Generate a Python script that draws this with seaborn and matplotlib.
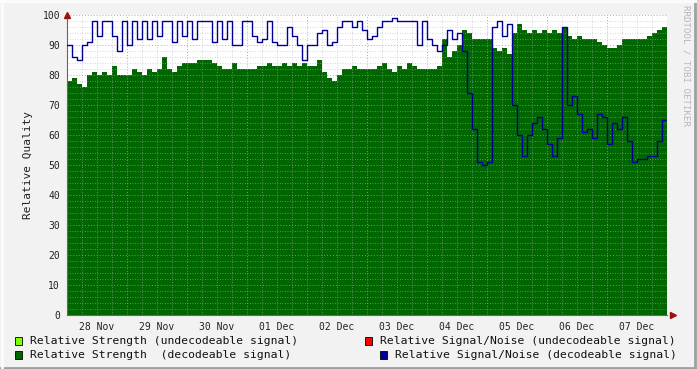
import numpy as np
import pandas as pd
import seaborn as sns
import matplotlib.pyplot as plt
from matplotlib.ticker import MultipleLocator, FuncFormatter, NullFormatter
from matplotlib.patches import Rectangle
from matplotlib.lines import Line2D

# === data: 2-hour samples starting 28 Nov 00:00 ===
day_labels = ["28 Nov", "29 Nov", "30 Nov", "01 Dec", "02 Dec",
              "03 Dec", "04 Dec", "05 Dec", "06 Dec", "07 Dec"]

strength = [
    78, 79, 77, 76, 80, 81, 80, 81, 80, 83, 80, 80,   # 28 Nov
    80, 82, 81, 80, 82, 81, 82, 86, 82, 81, 83, 84,   # 29 Nov
    84, 84, 85, 85, 85, 84, 83, 82, 82, 84, 82, 82,   # 30 Nov
    82, 82, 83, 83, 84, 83, 83, 84, 83, 84, 83, 84,   # 01 Dec
    83, 83, 85, 81, 79, 78, 80, 82, 82, 83, 82, 82,   # 02 Dec
    82, 82, 83, 84, 82, 81, 83, 82, 84, 83, 82, 82,   # 03 Dec
    82, 82, 83, 92, 86, 88, 90, 95, 94, 92, 92, 92,   # 04 Dec
    92, 89, 88, 89, 87, 94, 97, 95, 94, 95, 94, 95,   # 05 Dec
    94, 95, 94, 96, 93, 92, 93, 92, 92, 92, 91, 90,   # 06 Dec
    89, 89, 90, 92, 92, 92, 92, 92, 93, 94, 95, 96,   # 07 Dec
]

snr = [
    90, 86, 85, 90, 91, 98, 93, 98, 98, 93, 88, 98,
    90, 98, 92, 98, 92, 98, 93, 98, 98, 91, 98, 93,
    98, 92, 98, 98, 98, 91, 98, 92, 98, 90, 90, 98,
    98, 93, 91, 92, 98, 91, 90, 90, 96, 93, 90, 85,
    90, 90, 94, 95, 90, 91, 96, 98, 98, 96, 98, 95,
    92, 93, 96, 98, 98, 99, 98, 98, 98, 98, 90, 98,
    92, 90, 88, 90, 95, 92, 94, 88, 74, 62, 51, 50,
    51, 96, 98, 93, 97, 70, 60, 53, 60, 64, 66, 62,
    57, 53, 59, 96, 70, 73, 67, 61, 62, 59, 67, 66,
    57, 64, 62, 66, 58, 51, 52, 52, 53, 53, 58, 65,
]

step_hours = 2
hours = np.arange(len(strength) + 1) * step_hours
df = pd.DataFrame({
    "hour": hours,
    "strength": strength + strength[-1:],
    "snr": snr + snr[-1:],
})

# === style ===
sns.set_style("white")
plt.rcParams["font.family"] = ["DejaVu Sans Mono", "DejaVu Sans"]

bg = "#f2f2f2"
fig = plt.figure(figsize=(6.97, 3.69), dpi=100, facecolor=bg)
ax = fig.add_axes([67 / 697, 54 / 369, 600 / 697, 300 / 369])
ax.set_facecolor("white")

ax.fill_between(df["hour"], df["strength"], 0, step="post",
                color="#006600", linewidth=0, zorder=1)
sns.lineplot(data=df, x="hour", y="snr", ax=ax, color="#000099",
             linewidth=1.0, drawstyle="steps-post", zorder=3)

ax.set_xlim(0, 240)
ax.set_ylim(0, 100)

# grid
ax.xaxis.set_major_locator(MultipleLocator(24))
ax.xaxis.set_minor_locator(MultipleLocator(6))
ax.yaxis.set_major_locator(MultipleLocator(10))
ax.yaxis.set_minor_locator(MultipleLocator(2))
ax.set_axisbelow("line")
ax.grid(which="minor", color="#b0b0b0", linestyle=(0, (1, 2)), linewidth=0.6, alpha=0.7)
ax.grid(which="major", color="#e08080", linestyle=(0, (1, 2)), linewidth=0.7, alpha=0.8)

# day labels at noon
ax.xaxis.set_major_formatter(NullFormatter())
ax.xaxis.set_minor_formatter(FuncFormatter(
    lambda v, p: day_labels[int(v) // 24] if int(v) % 24 == 12 and int(v) // 24 < len(day_labels) else ""))
ax.tick_params(axis="x", which="major", length=3, color="#cc6666", direction="out")
ax.tick_params(axis="x", which="minor", length=0, labelsize=7, pad=5, labelcolor="#222222")
ax.tick_params(axis="y", which="major", length=3, color="#555555", direction="out",
               labelsize=7, labelcolor="#222222", pad=2)
ax.tick_params(axis="y", which="minor", length=0)

for s in ["top", "right"]:
    ax.spines[s].set_visible(False)
for s in ["left", "bottom"]:
    ax.spines[s].set_color("#666666")
    ax.spines[s].set_linewidth(0.8)

ax.set_xlabel("")
ax.set_ylabel("Relative Quality", fontsize=8, color="#222222", labelpad=7)

# axis arrows
ax.plot([0], [1.0], marker="^", markersize=4, color="#991111", transform=ax.transAxes,
        clip_on=False, zorder=5)
ax.plot([1.01], [0], marker=">", markersize=4, color="#991111", transform=ax.transAxes,
        clip_on=False, zorder=5)

# watermark
fig.text(686 / 697, 1 - 5 / 369, "RRDTOOL / TOBI OETIKER", rotation=-90, fontsize=6.6,
         color="#b8b8b8", ha="center", va="top")

# legend
legend_items = [
    (15, 341, "#80ff00", "Relative Strength (undecodeable signal)"),
    (365, 341, "#ff0000", "Relative Signal/Noise (undecodeable signal)"),
    (15, 355, "#006600", "Relative Strength  (decodeable signal)"),
    (380, 355, "#000099", "Relative Signal/Noise (decodeable signal)"),
]
for x0, y0, col, label in legend_items:
    fig.patches.append(Rectangle((x0 / 697, 1 - (y0 + 4) / 369), 7 / 697, 8 / 369,
                                 transform=fig.transFigure, facecolor=col,
                                 edgecolor="black", linewidth=0.6))
    fig.text((x0 + 15) / 697, 1 - y0 / 369, label, fontsize=8.2, color="#111111",
             ha="left", va="center")

# 3d-ish frame
fig.add_artist(Line2D([0, 1], [0.003, 0.003], color="#a0a0a0", linewidth=2, transform=fig.transFigure))
fig.add_artist(Line2D([0.997, 0.997], [0, 1], color="#a0a0a0", linewidth=2, transform=fig.transFigure))
fig.add_artist(Line2D([0, 1], [0.997, 0.997], color="#fcfcfc", linewidth=2, transform=fig.transFigure))
fig.add_artist(Line2D([0.003, 0.003], [0, 1], color="#fcfcfc", linewidth=2, transform=fig.transFigure))

fig.savefig("out.png", dpi=100, facecolor=bg)
